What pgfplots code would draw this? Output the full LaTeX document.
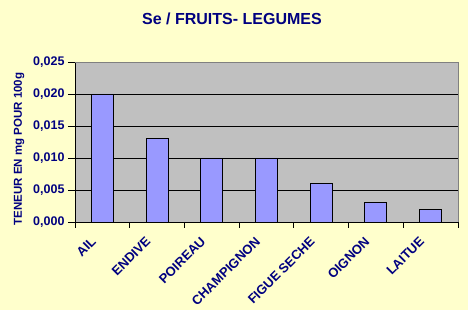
\documentclass[border=0pt]{standalone}
\usepackage{pgfplots}
\pgfplotsset{compat=1.18}
\usepackage{fontspec}
\setmainfont{Liberation Sans}
\definecolor{bgy}{HTML}{FFFFCC}
\definecolor{plotg}{HTML}{C0C0C0}
\definecolor{barc}{HTML}{9999FF}
\definecolor{navy}{HTML}{000080}
\definecolor{frameg}{HTML}{808080}
\begin{document}
\begin{tikzpicture}[x=1pt,y=1pt]
\path[use as bounding box, fill=bgy] (0,0) rectangle (468,310);
\node[font=\fontsize{16}{18}\selectfont\bfseries, text=navy] at (232,291) {Se / FRUITS- LEGUMES};
\begin{axis}[
  at={(75pt,88pt)}, anchor=south west,
  scale only axis, width=383pt, height=160pt,
  xmin=-0.5, xmax=6.5, ymin=0, ymax=0.025,
  axis background/.style={fill=plotg},
  axis x line*=bottom, axis y line*=left,
  axis line style={black, line width=0.9pt},
  separate axis lines,
  x axis line style={-}, y axis line style={-},
  xtick={0,1,2,3,4,5,6},
  xticklabels={AIL,ENDIVE,POIREAU,CHAMPIGNON,FIGUE SECHE,OIGNON,LAITUE},
  major x tick style={draw=none},
  minor xtick={-0.5,0.5,1.5,2.5,3.5,4.5,5.5,6.5},
  minor x tick style={black, line width=0.9pt},
  minor tick length=6pt,
  ytick={0,0.005,0.01,0.015,0.02,0.025},
  major y tick style={black, line width=0.9pt},
  major tick length=7pt,
  tick align=outside,
  scaled y ticks=false,
  yticklabel style={font=\fontsize{12.5}{14}\selectfont\bfseries, text=navy, /pgf/number format/.cd, fixed, fixed zerofill, precision=3, use comma, assume math mode=true},
  xticklabel style={font=\fontsize{13}{15}\selectfont\bfseries, text=navy, rotate=45, anchor=north east, xshift=-10pt, yshift=7pt},
  ymajorgrids, grid style={black, line width=0.9pt},
  ylabel={TENEUR EN mg POUR 100g},
  ylabel style={font=\fontsize{11.5}{13}\selectfont\bfseries, text=navy, yshift=2pt, xshift=-7pt},
  after end axis/.code={\draw[frameg, line width=0.9pt] (rel axis cs:0,1) -- (rel axis cs:1,1) -- (rel axis cs:1,0);},
]
\addplot[ybar, bar width=22pt, fill=barc, draw=black, line width=0.9pt] coordinates {
 (0,0.020) (1,0.013) (2,0.010) (3,0.010) (4,0.006) (5,0.003) (6,0.002)};
\end{axis}
\end{tikzpicture}
\end{document}
